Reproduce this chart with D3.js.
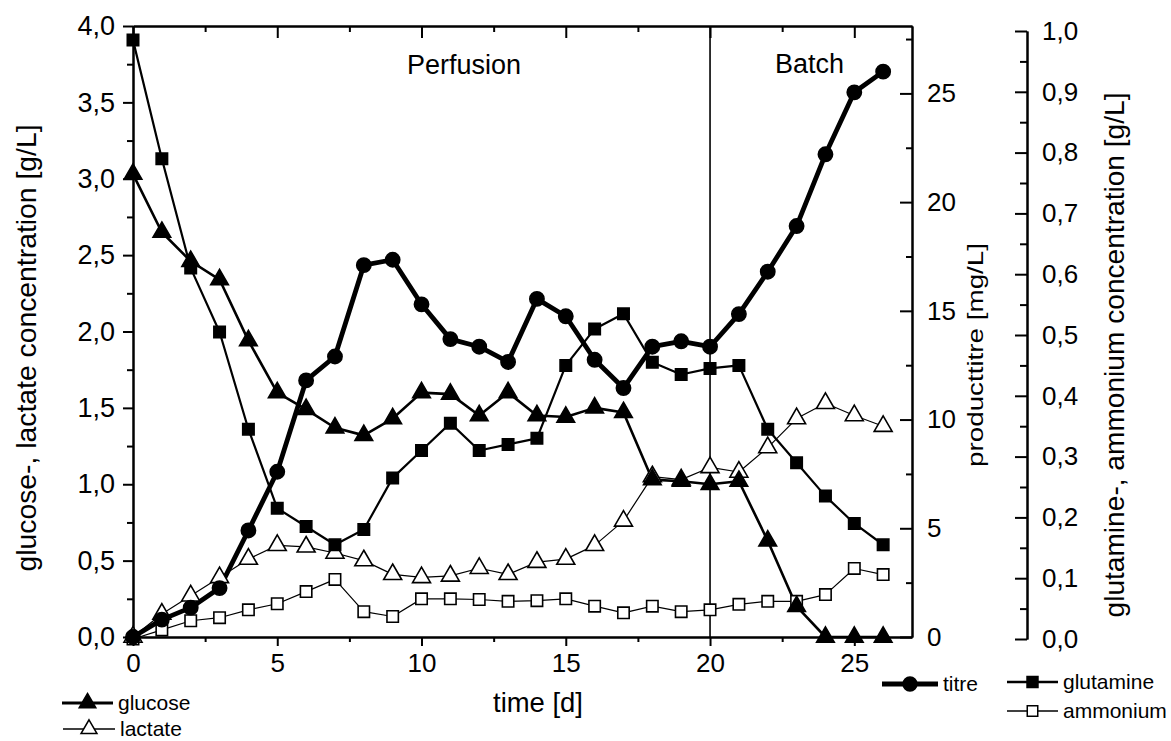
<!DOCTYPE html>
<html><head><meta charset="utf-8">
<script src="https://cdn.jsdelivr.net/npm/d3@7"></script>
<style>
body{margin:0;background:#fff;}
svg{display:block;font-family:"Liberation Sans",Arial,Helvetica,sans-serif;}
</style></head><body>
<svg id="c" width="1171" height="741"></svg>
<script>
// ---------- data ----------
const days      = [0,1,2,3,4,5,6,7,8,9,10,11,12,13,14,15,16,17,18,19,20,21,22,23,24,25,26];
const glucose   = [3.03,2.65,2.46,2.34,1.94,1.60,1.49,1.37,1.32,1.43,1.60,1.59,1.45,1.60,1.45,1.44,1.50,1.47,1.03,1.02,1.00,1.02,0.63,0.20,0.00,0.00,0.00];
const lactate   = [0.00,0.15,0.27,0.39,0.51,0.60,0.59,0.55,0.50,0.41,0.39,0.40,0.45,0.41,0.49,0.51,0.60,0.76,1.05,1.03,1.11,1.08,1.24,1.43,1.53,1.45,1.38];
const titre     = [0,0.8,1.35,2.25,4.9,7.6,11.8,12.9,17.1,17.35,15.3,13.7,13.35,12.65,15.55,14.75,12.75,11.45,13.35,13.6,13.35,14.85,16.8,18.9,22.2,25.05,26.0];
const glutamine = [0.985,0.79,0.61,0.505,0.345,0.215,0.185,0.155,0.18,0.265,0.31,0.355,0.31,0.32,0.33,0.45,0.51,0.535,0.455,0.435,0.445,0.45,0.345,0.29,0.235,0.19,0.155];
const ammonium  = [0.0,0.015,0.03,0.035,0.048,0.058,0.078,0.098,0.045,0.037,0.066,0.066,0.065,0.062,0.063,0.066,0.054,0.043,0.054,0.045,0.048,0.057,0.062,0.062,0.073,0.116,0.106];

const xMajor = [0,5,10,15,20,25];
const xMinor = [2.5,7.5,12.5,17.5,22.5];
const leftMajor = [0,0.5,1,1.5,2,2.5,3,3.5,4];
const leftMinor = [0.25,0.75,1.25,1.75,2.25,2.75,3.25,3.75];
const titreMajor = [0,5,10,15,20,25];
const titreMinor = [2.5,7.5,12.5,17.5,22.5,27.5];
const glnMajor = [0,0.1,0.2,0.3,0.4,0.5,0.6,0.7,0.8,0.9,1.0];
const glnMinor = [0.05,0.15,0.25,0.35,0.45,0.55,0.65,0.75,0.85,0.95];
const phaseSwitch = 20;

// ---------- scales ----------
const svg = d3.select("#c");
const x  = d3.scaleLinear().domain([0,27]).range([133,912]);
const yL = d3.scaleLinear().domain([0,4]).range([637,26]);
const yT = d3.scaleLinear().domain([0,28.1]).range([637,26]);
const yG = d3.scaleLinear().domain([0,1]).range([639,31]);
const comma = d => d.toFixed(1).replace(".",",");

function styleAxis(g, fs){
  g.selectAll("path,line").attr("stroke","#000").attr("stroke-width",2);
  g.selectAll("text").attr("fill","#000").style("font-size",fs+"px").style("font-family","'Liberation Sans',Arial,sans-serif");
}

// bottom axis
svg.append("g").attr("transform","translate(0,637)")
  .call(d3.axisBottom(x).tickValues(xMinor).tickSizeInner(5).tickSizeOuter(0).tickFormat(()=>""))
  .call(g=>styleAxis(g,26));
svg.append("g").attr("transform","translate(0,637)")
  .call(d3.axisBottom(x).tickValues(xMajor).tickSizeInner(9).tickSizeOuter(0).tickPadding(8))
  .call(g=>styleAxis(g,26));
// top axis (ticks inward)
svg.append("g").attr("transform","translate(0,26)")
  .call(d3.axisTop(x).tickValues(xMinor).tickSizeInner(-6).tickSizeOuter(0).tickFormat(()=>""))
  .call(g=>styleAxis(g,26));
svg.append("g").attr("transform","translate(0,26)")
  .call(d3.axisTop(x).tickValues(xMajor).tickSizeInner(-12).tickSizeOuter(0).tickFormat(()=>""))
  .call(g=>styleAxis(g,26));
// left axis
svg.append("g").attr("transform","translate(133,0)")
  .call(d3.axisLeft(yL).tickValues(leftMinor).tickSizeInner(6).tickSizeOuter(0).tickFormat(()=>""))
  .call(g=>styleAxis(g,26));
svg.append("g").attr("transform","translate(133,0)")
  .call(d3.axisLeft(yL).tickValues(leftMajor).tickSizeInner(10).tickSizeOuter(0).tickPadding(8).tickFormat(comma))
  .call(g=>styleAxis(g,27));
// right (titre) axis, ticks inward
svg.append("g").attr("transform","translate(912,0)")
  .call(d3.axisRight(yT).tickValues(titreMinor).tickSizeInner(-6).tickSizeOuter(0).tickFormat(()=>""))
  .call(g=>styleAxis(g,26));
svg.append("g").attr("transform","translate(912,0)")
  .call(d3.axisRight(yT).tickValues(titreMajor).tickSizeInner(-12).tickSizeOuter(0).tickPadding(15))
  .call(g=>styleAxis(g,26));
// offset glutamine/ammonium axis
svg.append("g").attr("transform","translate(1027,0)")
  .call(d3.axisRight(yG).tickValues(glnMinor).tickSizeInner(-7).tickSizeOuter(0).tickFormat(()=>""))
  .call(g=>styleAxis(g,26));
svg.append("g").attr("transform","translate(1027,0)")
  .call(d3.axisRight(yG).tickValues(glnMajor).tickSizeInner(-12).tickSizeOuter(0).tickPadding(15).tickFormat(comma))
  .call(g=>styleAxis(g,26));

// phase separator
svg.append("line").attr("x1",x(phaseSwitch)).attr("x2",x(phaseSwitch))
  .attr("y1",yL(4)).attr("y2",yL(0)).attr("stroke","#000").attr("stroke-width",1.6);

// axis titles
function title(txt,tx,ty,rot,fs,len){
  const t = svg.append("text").attr("transform",`translate(${tx},${ty}) rotate(${rot})`)
    .attr("text-anchor","middle").style("font-size",fs+"px").attr("fill","#000").text(txt);
  if(len) t.attr("textLength",len).attr("lengthAdjust","spacingAndGlyphs");
  return t;
}
title("glucose-, lactate concentration [g/L]",36,348,-90,28,447);
title("producttitre [mg/L]",983,355,-90,22,224);
title("glutamine-, ammonium concentration [g/L]",1124,355,-90,28,525);
title("time [d]",538,712,0,28,90);
svg.append("text").attr("x",407).attr("y",74).style("font-size","27px").text("Perfusion");
svg.append("text").attr("x",775).attr("y",73).style("font-size","27px").text("Batch");

// ---------- series ----------
const series = [
  {name:"lactate",   vals:lactate,   y:yL, sym:d3.symbolTriangle, size:140, fill:"#fff", lw:1.2},
  {name:"ammonium",  vals:ammonium,  y:yG, sym:d3.symbolSquare,   size:130, fill:"#fff", lw:1.2},
  {name:"glucose",   vals:glucose,   y:yL, sym:d3.symbolTriangle, size:135, fill:"#000", lw:2.6},
  {name:"glutamine", vals:glutamine, y:yG, sym:d3.symbolSquare,   size:130, fill:"#000", lw:2.2},
  {name:"titre",     vals:titre,     y:yT, sym:d3.symbolCircle,   size:160, fill:"#000", lw:4.8}
];
series.forEach(s=>{
  const pts = days.map((d,i)=>[d,s.vals[i]]);
  svg.append("path").datum(pts)
    .attr("d", d3.line().x(p=>x(p[0])).y(p=>s.y(p[1])))
    .attr("fill","none").attr("stroke","#000").attr("stroke-width",s.lw).attr("stroke-linejoin","round");
});
series.forEach(s=>{
  svg.append("g").selectAll("path").data(days.map((d,i)=>[d,s.vals[i]])).join("path")
    .attr("transform",p=>`translate(${x(p[0])},${s.y(p[1])})`)
    .attr("d", d3.symbol().type(s.sym).size(s.size))
    .attr("fill",s.fill).attr("stroke","#000").attr("stroke-width",1.6);
});

// ---------- legend ----------
const legend = [
  {label:"glucose",   sym:d3.symbolTriangle, fill:"#000", lw:3.2, x1:62,  x2:113, y:703, size:120},
  {label:"lactate",   sym:d3.symbolTriangle, fill:"#fff", lw:1.4, x1:63,  x2:115, y:729, size:110},
  {label:"titre",     sym:d3.symbolCircle,   fill:"#000", lw:5,   x1:882, x2:938, y:684, size:150},
  {label:"glutamine", sym:d3.symbolSquare,   fill:"#000", lw:2.4, x1:1007,x2:1058,y:682, size:120},
  {label:"ammonium",  sym:d3.symbolSquare,   fill:"#fff", lw:1.4, x1:1007,x2:1058,y:711, size:110}
];
const lg = svg.append("g").selectAll("g").data(legend).join("g");
lg.append("line").attr("x1",d=>d.x1).attr("x2",d=>d.x2).attr("y1",d=>d.y).attr("y2",d=>d.y)
  .attr("stroke","#000").attr("stroke-width",d=>d.lw);
lg.append("path").attr("transform",d=>`translate(${(d.x1+d.x2)/2},${d.y})`)
  .attr("d",d=>d3.symbol().type(d.sym).size(d.size)())
  .attr("fill",d=>d.fill).attr("stroke","#000").attr("stroke-width",1.5);
lg.append("text").attr("x",d=>d.x2+5).attr("y",d=>d.y+7)
  .style("font-size","21px").attr("fill","#000").text(d=>d.label);
</script>
</body></html>
